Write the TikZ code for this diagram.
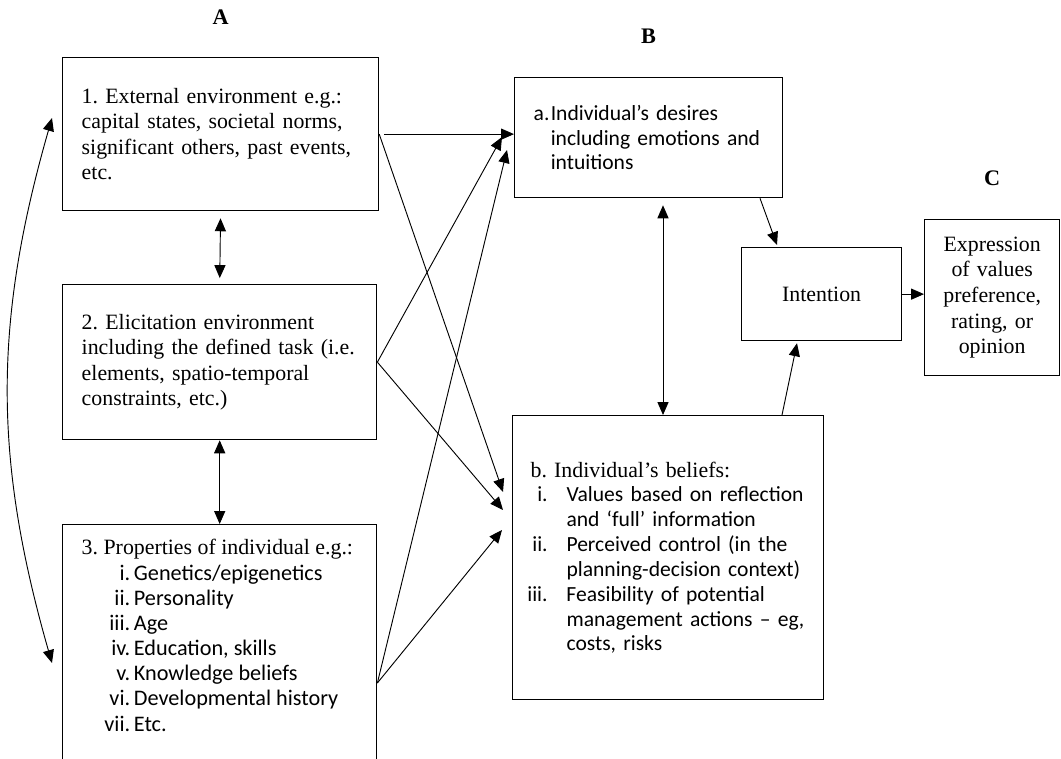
\documentclass[tikz,border=0pt]{standalone}
\usepackage{fontspec}
\setmainfont{Liberation Serif}
\newfontfamily\calibri{Carlito}
\usetikzlibrary{arrows.meta,positioning,calc}

\newcommand{\tnrsize}{\rmfamily\fontsize{11.8}{13.8}\selectfont}
\newcommand{\propitem}[2]{\makebox[26.2pt][r]{#1}\hspace{2pt}#2}
\newcommand{\beliefitem}[2]{\makebox[9.2pt][r]{#1}\hspace{10.2pt}#2}
\newcommand{\beliefcont}[1]{\hspace*{19.4pt}#1}

\begin{document}
\frenchspacing
\begin{tikzpicture}[
  x=0.54pt, y=-0.54pt,
  timestext/.style={font=\frenchspacing\fontsize{11.8}{13.8}\selectfont},
  calibritext/.style={font=\frenchspacing\calibri\fontsize{11.65}{13.4}\selectfont},
  panel/.style={
    draw,
    line width=.7pt,
    anchor=north west,
    align=left,
    inner xsep=10.3pt,
    inner ysep=0pt
  },
  tag/.style={font=\bfseries\fontsize{12}{13.8}\selectfont, inner sep=0pt},
  link/.style={-{Triangle[length=7pt,width=6pt]}, line width=.5pt},
  twoway/.style={{Triangle[length=7pt,width=6pt]}-{Triangle[length=7pt,width=6pt]}, line width=.5pt},
  node distance=17.6pt
]
\useasboundingbox (0,0) rectangle (1061,759);
\clip (0,0) rectangle (1061,759);

% column A
\node[panel, timestext, text width=150pt, minimum height=82.6pt] (ext) at (62,57)
  {1. External environment e.g.:\\
   capital states, societal norms,\\
   significant others, past events,\\
   etc.};
\node[panel, timestext, text width=149pt, minimum height=83.7pt] (task) at (62,284)
  {2. Elicitation environment\\
   including the defined task (i.e.\\
   elements, spatio-temporal\\
   constraints, etc.)};
\node[panel, font=\frenchspacing\calibri\fontsize{12}{13.6}\selectfont, inner ysep=8pt] (props) at (62,524)
  {\parbox[t][130pt][t]{149pt}{\raggedright
   {\tnrsize 3. Properties of individual e.g.:}\\
   \propitem{i.}{Genetics/epigenetics}\\
   \propitem{ii.}{Personality}\\
   \propitem{iii.}{Age}\\
   \propitem{iv.}{Education, skills}\\
   \propitem{v.}{Knowledge beliefs}\\
   \propitem{vi.}{Developmental history}\\
   \propitem{vii.}{Etc.}}};

% column B
\node[panel, calibritext, text width=124.1pt, minimum height=64.8pt] (des) at (514,77)
  {\makebox[9.2pt][l]{a.}Individual’s desires\\
   \hspace*{9.2pt}including emotions and\\
   \hspace*{9.2pt}intuitions};
\node[panel, calibritext, inner xsep=9.7pt, text width=148.6pt, minimum height=153.4pt] (bel) at (512,415)
  {{\tnrsize b. Individual’s beliefs:}\\
   \beliefitem{i.}{Values based on reflection}\\
   \beliefcont{and ‘full’ information}\\
   \beliefitem{ii.}{Perceived control (in the}\\
   \beliefcont{planning-decision context)}\\
   \beliefitem{iii.}{Feasibility of potential}\\
   \beliefcont{management actions – eg,}\\
   \beliefcont{costs, risks}\\[4pt]};
\node[panel, timestext, align=center, minimum width=86.4pt, minimum height=50.2pt] (int) at (741,247)
  {Intention};

% column C
\node[panel, timestext, align=center, inner xsep=2pt, text width=68.9pt, minimum height=84.2pt] (expr) at (924,219)
  {Expression\\ of values\\ preference,\\ rating, or\\ opinion};

\node[tag, above=of ext] (lblA) {A};
\node[tag, above=of des] (lblB) {B};
\node[tag, above=of expr] (lblC) {C};

% arrival points
\coordinate (des-in2) at ($(des.north west)+(-12,60)$);
\coordinate (des-in3) at ($(des.north west)+(-7,73)$);
\coordinate (bel-in1) at ($(bel.north west)+(-9,77)$);
\coordinate (bel-in2) at ($(bel.north west)+(-9,95)$);
\coordinate (bel-in3) at ($(bel.north west)+(-10,115)$);
\coordinate (props-out) at ($(props.north east)+(0,159)$);
\coordinate (loop-top) at ($(ext.north west)+(-10,61)$);
\coordinate (loop-bot) at ($(props.north west)+(-10,139)$);

\draw[link, shorten <=2.7pt] (ext.east) -- (ext.east -| des.west);
\draw[link] (ext.east) -- (bel-in1);
\draw[link] (task.east) -- (des-in2);
\draw[link] (task.east) -- (bel-in2);
\draw[link] (props-out) -- (des-in3);
\draw[link] (props-out) -- (bel-in3);

\draw[twoway, shorten <=3.8pt, shorten >=3.2pt] (ext.south) -- (task.north);
\draw[twoway] (task.south) -- (props.north);
\draw[twoway] (loop-top) to[bend right=16] (loop-bot);

\draw[twoway] ($(des.south west)+(149,7)$) -- ($(bel.north west)+(151,0)$);
\draw[link] ($(des.south west)+(246,0)$) -- ($(int.north west)+(36,-2)$);
\draw[link] ($(bel.north west)+(270,0)$) -- ($(int.south west)+(56,2)$);
\draw[link] (int.east) -- (int.east -| expr.west);
\end{tikzpicture}
\end{document}
